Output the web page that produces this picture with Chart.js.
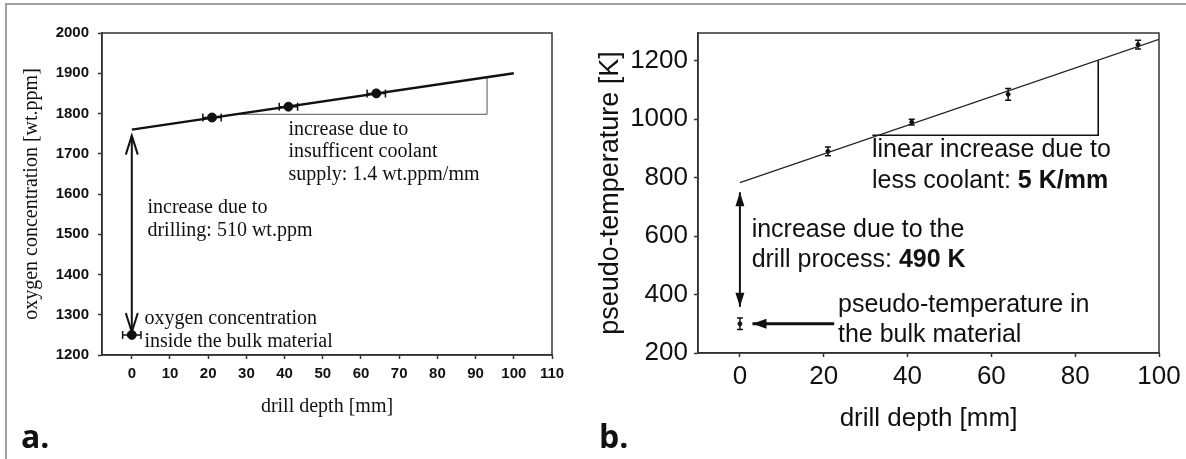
<!DOCTYPE html>
<html>
<head>
<meta charset="utf-8">
<script src="https://cdn.jsdelivr.net/npm/chart.js@4.4.1/dist/chart.umd.min.js"></script>
<style>
  body { margin: 0; background: #fff; width: 1186px; height: 459px; overflow: hidden; position: relative; }
  .frame { position: absolute; left: 5px; top: 3px; width: 1190px; height: 470px; border: 2px solid #a0a0a0; box-sizing: border-box; }
  canvas { position: absolute; top: 0; }
  #chartA { left: 0; }
  #chartB { left: 590px; }
  .tag { position: absolute; font-family: "Open Sans", sans-serif; font-weight: bold; font-size: 32px; line-height: 32px; color: #111; }
</style>
</head>
<body>
<div class="frame"></div>
<canvas id="chartA" width="590" height="459"></canvas>
<canvas id="chartB" width="596" height="459"></canvas>
<div class="tag" style="left:21px; top:420px;">a.</div>
<div class="tag" style="left:599px; top:420px;">b.</div>
<script>
'use strict'

// ---- panel a: oxygen concentration vs drill depth
const depthA = [0, 21, 41, 64];
const oxygen = [1250, 1790, 1817, 1850];
const depthErrA = [2.4, 2.4, 2.4, 2.4];
const fitDepthA = [0, 100];
const fitOxygen = [1760, 1900];
const slopeDepthA = [27, 93, 93];
const slopeOxygen = [1798, 1798, 1890];
const xTicksA = [0, 10, 20, 30, 40, 50, 60, 70, 80, 90, 100, 110];
const yTicksA = [1200, 1300, 1400, 1500, 1600, 1700, 1800, 1900, 2000];

// ---- panel b: pseudo-temperature vs drill depth
const depthB = [0, 21, 41, 64, 95];
const pseudoTemp = [300, 890, 990, 1085, 1255];
const tempErr = [20, 15, 10, 20, 15];
const fitDepthB = [0, 100];
const fitTemp = [783, 1273];
const slopeDepthB = [31.6, 85.5, 85.5];
const slopeTemp = [945, 945, 1202];
const xTicksB = [0, 20, 40, 60, 80, 100];
const yTicksB = [200, 300, 400, 500, 600, 700, 800, 900, 1000, 1100, 1200];

const toPts = (xs, ys) => xs.map((x, i) => ({ x: x, y: ys[i] }));

// draw a line of text made of runs (some bold)
function drawRuns(ctx, x, y, runs, size, family) {
    let cx = x;
    runs.forEach(r => {
        ctx.font = (r.bold ? 'bold ' : '') + size + 'px ' + family;
        ctx.fillText(r.t, cx, y);
        cx += ctx.measureText(r.t).width;
    });
}

function arrowHead(ctx, x, y, dx, dy, len, half, filled) {
    // (dx,dy) unit direction the arrow points to
    const bx = x - dx * len, by = y - dy * len;
    const px = -dy * half, py = dx * half;
    ctx.beginPath();
    ctx.moveTo(bx + px, by + py);
    ctx.lineTo(x, y);
    ctx.lineTo(bx - px, by - py);
    if (filled) { ctx.closePath(); ctx.fill(); } else { ctx.stroke(); }
}

// frame + error bars + notes
const extras = {
    id: 'extras',
    afterDatasetsDraw(chart, args, opts) {
        const ctx = chart.ctx;
        const xs = chart.scales.x, ys = chart.scales.y;
        const a = chart.chartArea;
        ctx.save();
        ctx.strokeStyle = '#333';
        ctx.lineWidth = 1.5;
        ctx.strokeRect(a.left, a.top, a.right - a.left, a.bottom - a.top);

        // error bars
        const pts = chart.data.datasets[opts.pointSet].data;
        ctx.strokeStyle = '#111';
        ctx.lineWidth = 1.5;
        pts.forEach((p, i) => {
            const px = xs.getPixelForValue(p.x), py = ys.getPixelForValue(p.y);
            ctx.beginPath();
            if (opts.xErr) {
                const l = xs.getPixelForValue(p.x - opts.xErr[i]), r = xs.getPixelForValue(p.x + opts.xErr[i]);
                ctx.moveTo(l, py); ctx.lineTo(r, py);
                ctx.moveTo(l, py - 4); ctx.lineTo(l, py + 4);
                ctx.moveTo(r, py - 4); ctx.lineTo(r, py + 4);
            }
            if (opts.yErr) {
                const t = ys.getPixelForValue(p.y + opts.yErr[i]), b = ys.getPixelForValue(p.y - opts.yErr[i]);
                ctx.moveTo(px, t); ctx.lineTo(px, b);
                ctx.moveTo(px - 3, t); ctx.lineTo(px + 3, t);
                ctx.moveTo(px - 3, b); ctx.lineTo(px + 3, b);
            }
            ctx.stroke();
        });

        // arrows
        ctx.fillStyle = '#111';
        opts.arrows.forEach(ar => {
            const x1 = xs.getPixelForValue(ar.from[0]), y1 = ys.getPixelForValue(ar.from[1]);
            const x2 = xs.getPixelForValue(ar.to[0]), y2 = ys.getPixelForValue(ar.to[1]);
            const d = Math.hypot(x2 - x1, y2 - y1), dx = (x2 - x1) / d, dy = (y2 - y1) / d;
            ctx.lineWidth = ar.width;
            ctx.beginPath(); ctx.moveTo(x1, y1); ctx.lineTo(x2, y2); ctx.stroke();
            arrowHead(ctx, x2, y2, dx, dy, ar.len, ar.half, ar.filled);
            if (ar.both) arrowHead(ctx, x1, y1, -dx, -dy, ar.len, ar.half, ar.filled);
        });

        // notes
        ctx.fillStyle = '#111';
        ctx.textBaseline = 'middle';
        ctx.textAlign = 'left';
        opts.notes.forEach(n => {
            const x = xs.getPixelForValue(n.x), y = ys.getPixelForValue(n.y);
            n.lines.forEach((ln, k) => drawRuns(ctx, x, y + k * opts.lineGap, ln, opts.size, opts.family));
        });
        ctx.restore();
    }
};

Chart.defaults.color = '#111';
Chart.defaults.animation = false;

// one linear axis with fixed box size so the plot area lands where it should
function axis(o) {
    return {
        type: 'linear', min: o.min, max: o.max,
        afterBuildTicks: s => { s.ticks = o.ticks.map(v => ({ value: v })); },
        afterFit: s => { s[o.fitProp] = o.fitVal; },
        grid: { drawOnChartArea: false, drawTicks: true, tickLength: 4, tickColor: '#333', tickWidth: 1.5 },
        border: { color: '#333', width: 1.5 },
        ticks: {
            font: { family: o.family, size: o.size, weight: o.weight }, color: '#111', padding: o.tickPad,
            callback: v => (o.skipOdd && v % 200 !== 0) ? '' : v
        },
        title: { display: true, text: o.label, color: '#111', font: { family: o.titleFamily, size: o.titleSize }, padding: o.titlePad }
    };
}

// panel a
new Chart(document.getElementById('chartA'), {
    type: 'scatter',
    data: {
        datasets: [
            { data: toPts(fitDepthA, fitOxygen), showLine: true, borderColor: '#111', borderWidth: 2.4, pointRadius: 0 },
            { data: toPts(slopeDepthA, slopeOxygen), showLine: true, borderColor: '#555', borderWidth: 1, pointRadius: 0 },
            { data: toPts(depthA, oxygen), pointRadius: 4.5, backgroundColor: '#111', borderColor: '#111' }
        ]
    },
    options: {
        responsive: false,
        layout: { padding: { left: 0, top: 33, right: 38, bottom: 0 } },
        plugins: {
            legend: { display: false }, tooltip: { enabled: false },
            extras: {
                pointSet: 2, xErr: depthErrA, lineGap: 22.5, size: 20, family: '"Liberation Serif"',
                arrows: [{ from: [0, 1745], to: [0, 1257], width: 2, len: 19, half: 6, filled: false, both: true }],
                notes: [
                    { x: 41, y: 1760, lines: [[{ t: 'increase due to' }], [{ t: 'insufficent coolant' }], [{ t: 'supply: 1.4 wt.ppm/mm' }]] },
                    { x: 4.1, y: 1565, lines: [[{ t: 'increase due to' }], [{ t: 'drilling: 510 wt.ppm' }]] },
                    { x: 3.3, y: 1289, lines: [[{ t: 'oxygen concentration' }], [{ t: 'inside the bulk material' }]] }
                ]
            }
        },
        scales: {
            x: axis({ min: -7.8, max: 110, ticks: xTicksA, size: 15, weight: 'bold', family: '"Liberation Sans"', tickPad: 6,
                      label: 'drill depth [mm]', titleFamily: '"Liberation Serif"', titleSize: 20, titlePad: { top: 0, bottom: 40 },
                      fitProp: 'height', fitVal: 104 }),
            y: axis({ min: 1200, max: 2000, ticks: yTicksA, size: 15, weight: 'bold', family: '"Liberation Sans"', tickPad: 9,
                      label: 'oxygen concentration [wt.ppm]', titleFamily: '"Liberation Serif"', titleSize: 20, titlePad: { top: 20, bottom: 0 },
                      fitProp: 'width', fitVal: 102 })
        }
    },
    plugins: [extras]
});

// panel b
new Chart(document.getElementById('chartB'), {
    type: 'scatter',
    data: {
        datasets: [
            { data: toPts(fitDepthB, fitTemp), showLine: true, borderColor: '#222', borderWidth: 1.2, pointRadius: 0 },
            { data: toPts(slopeDepthB, slopeTemp), showLine: true, borderColor: '#111', borderWidth: 1.6, pointRadius: 0 },
            { data: toPts(depthB, pseudoTemp), pointRadius: 2, backgroundColor: '#111', borderColor: '#111' }
        ]
    },
    options: {
        responsive: false,
        layout: { padding: { left: 0, top: 33, right: 27, bottom: 0 } },
        plugins: {
            legend: { display: false }, tooltip: { enabled: false },
            extras: {
                pointSet: 2, yErr: tempErr, lineGap: 30.5, size: 25, family: '"Liberation Sans"',
                arrows: [
                    { from: [0, 750], to: [0, 358], width: 2, len: 14, half: 4.5, filled: true, both: true },
                    { from: [22.5, 300], to: [3, 300], width: 3, len: 14, half: 5, filled: true, both: false }
                ],
                notes: [
                    { x: 31.5, y: 893, lines: [[{ t: 'linear increase due to' }], [{ t: 'less coolant: ' }, { t: '5 K/mm', bold: true }]] },
                    { x: 2.8, y: 622, lines: [[{ t: 'increase due to the' }], [{ t: 'drill process: ' }, { t: '490 K', bold: true }]] },
                    { x: 23.4, y: 365, lines: [[{ t: 'pseudo-temperature in' }], [{ t: 'the bulk material' }]] }
                ]
            }
        },
        scales: {
            x: axis({ min: -10, max: 100, ticks: xTicksB, size: 26, weight: 'normal', family: '"Liberation Sans"', tickPad: 4,
                      label: 'drill depth [mm]', titleFamily: '"Liberation Sans"', titleSize: 26, titlePad: { top: 0, bottom: 25 },
                      fitProp: 'height', fitVal: 106 }),
            y: axis({ min: 200, max: 1295, ticks: yTicksB, size: 26, weight: 'normal', family: '"Liberation Sans"', tickPad: 6,
                      label: 'pseudo-temperature [K]', titleFamily: '"Liberation Sans"', titleSize: 27, titlePad: { top: 4, bottom: 0 },
                      fitProp: 'width', fitVal: 108, skipOdd: true })
        }
    },
    plugins: [extras]
});
</script>
</body>
</html>
